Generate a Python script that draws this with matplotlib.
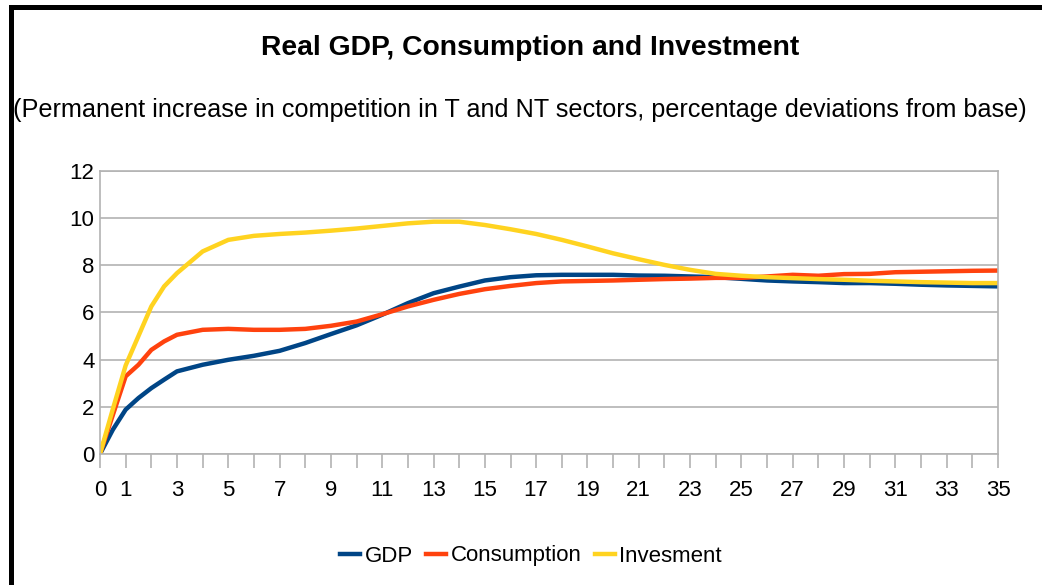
import matplotlib
matplotlib.use('Agg')
import matplotlib.pyplot as plt
from matplotlib.patches import Rectangle

plt.rcParams['font.family'] = ['Liberation Sans', 'DejaVu Sans']

# years after the shock (first two years read at half-year steps)
periods = [0, 0.5, 1, 1.5, 2, 2.5, 3, 4, 5, 6, 7, 8, 9, 10, 11, 12, 13, 14, 15, 16, 17, 18,
           19, 20, 21, 22, 23, 24, 25, 26, 27, 28, 29, 30, 31, 32, 33, 34, 35]

gdp = [0, 1.03, 1.88, 2.37, 2.79, 3.15, 3.50, 3.78, 3.99, 4.16, 4.37, 4.70, 5.08, 5.45,
       5.90, 6.39, 6.81, 7.09, 7.35, 7.49, 7.57, 7.59, 7.59, 7.59, 7.56, 7.55, 7.52, 7.49,
       7.42, 7.35, 7.31, 7.28, 7.24, 7.24, 7.21, 7.17, 7.14, 7.12, 7.10]

consumption = [0, 1.65, 3.29, 3.78, 4.41, 4.77, 5.05, 5.26, 5.30, 5.26, 5.26, 5.30, 5.43,
               5.61, 5.92, 6.25, 6.53, 6.78, 6.98, 7.12, 7.24, 7.31, 7.33, 7.35, 7.38, 7.41,
               7.43, 7.46, 7.46, 7.52, 7.59, 7.55, 7.62, 7.63, 7.70, 7.72, 7.74, 7.76, 7.77]

investment = [0, 1.9, 3.75, 5.0, 6.25, 7.1, 7.66, 8.58, 9.07, 9.24, 9.32, 9.38, 9.46, 9.55,
              9.66, 9.77, 9.84, 9.84, 9.70, 9.52, 9.32, 9.07, 8.79, 8.50, 8.25, 8.01, 7.80,
              7.63, 7.55, 7.49, 7.45, 7.41, 7.38, 7.34, 7.31, 7.28, 7.26, 7.24, 7.24]

x_labels = [0] + list(range(1, 36, 2))

fig = plt.figure(figsize=(10.42, 5.85), dpi=100)
ax = fig.add_axes([100/1042, 1 - 454/585, 898/1042, 283.3/585])

ax.plot(periods, gdp, color='#004586', lw=3.2, label='GDP')
ax.plot(periods, consumption, color='#ff420e', lw=3.2, label='Consumption')
ax.plot(periods, investment, color='#ffd320', lw=3.2, label='Invesment')

ax.set_xlim(0, 35)
ax.set_ylim(0, 12)
ax.set_yticks(range(0, 13, 2))
ax.set_xticks(range(0, 36), minor=True)
ax.set_xticks(x_labels)
ax.grid(axis='y', color='#b3b3b3', lw=1.2)
ax.set_axisbelow(True)
for s in ax.spines.values():
    s.set_color('#b3b3b3')
    s.set_linewidth(1.2)
ax.tick_params(axis='x', which='both', length=10, width=1.2, color='#b3b3b3',
               labelsize=16, pad=9)
ax.tick_params(axis='y', length=0, labelsize=16, pad=4)

fig.text(530/1042, 1 - 48/585, 'Real GDP, Consumption and Investment',
         ha='center', va='center', fontsize=20.3, fontweight='bold')
fig.text(520/1042, 1 - 110/585,
         '(Permanent increase in competition in T and NT sectors, percentage deviations from base)',
         ha='center', va='center', fontsize=18.2)

fig.legend(loc='center', bbox_to_anchor=(531/1042, 1 - 556/585), ncol=3, frameon=False,
           fontsize=16, handlelength=0.9, handletextpad=0.2, columnspacing=0.6)

# black frame bits at the top and left edge
fig.add_artist(Rectangle((8.7/1042, 0), 5.3/1042, 1 - 5/585, transform=fig.transFigure,
                         color='black', lw=0))
fig.add_artist(Rectangle((8.7/1042, 1 - 10/585), 1, 5/585, transform=fig.transFigure,
                         color='black', lw=0))

fig.savefig('out.png', dpi=100)
